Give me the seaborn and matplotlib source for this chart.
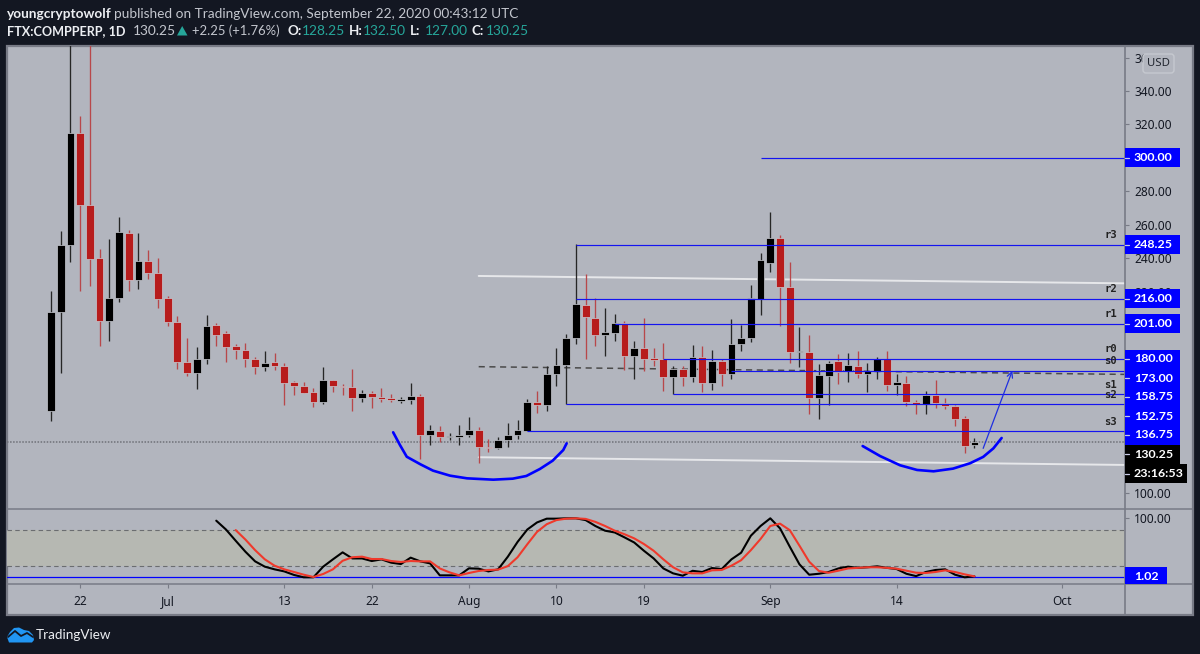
import numpy as np
import matplotlib
matplotlib.use("Agg")
import matplotlib.pyplot as plt
from matplotlib.patches import Rectangle, Polygon, FancyBboxPatch
from matplotlib.transforms import blended_transform_factory
import seaborn as sns

# -----------------------------
# Candles (day 0 = 19 Jun 2020)
# -----------------------------
opens = [148.8, 207.8, 248.0, 315.1, 271.9, 240.0, 202.8, 216.2, 255.0, 227.1, 238.4, 231.1,
         216.2, 202.0, 178.1, 171.7, 179.7, 200.4, 195.2, 187.5, 185.3, 179.7, 175.1, 178.1,
         175.9, 166.2, 163.8, 160.0, 154.2, 167.2, 164.0, 163.3, 156.8, 159.6, 157.0, 156.4,
         155.0, 155.4, 157.8, 134.5, 137.1, 133.1, 133.1, 134.5, 137.5, 127.5, 126.7, 131.5,
         134.5, 136.9, 154.0, 152.6, 170.7, 176.3, 192.3, 212.2, 204.2, 194.2, 195.6, 201.2,
         181.7, 186.5, 180.5, 179.7, 169.1, 174.1, 169.1, 181.1, 165.4, 178.9, 171.1, 189.0,
         192.3, 215.9, 237.4, 252.0, 223.1, 184.1, 184.3, 156.4, 169.9, 178.5, 172.5, 175.9,
         170.7, 172.7, 179.9, 164.5, 165.7, 154.4, 153.0, 158.6, 153.6, 151.8, 144.5, 128.25]
highs = [220.5, 256.4, 372.0, 325.2, 385.0, 245.6, 251.4, 264.9, 257.0, 255.2, 245.0, 240.0,
         217.7, 205.6, 192.3, 186.9, 206.2, 201.4, 196.6, 188.9, 189.3, 181.1, 184.5, 183.3,
         177.7, 167.0, 166.2, 162.4, 175.1, 167.4, 164.8, 173.7, 161.4, 160.6, 162.4, 158.8,
         157.2, 165.4, 159.0, 140.5, 140.1, 135.5, 140.3, 145.1, 139.1, 131.9, 133.1, 141.5,
         143.5, 156.2, 160.8, 175.9, 186.6, 194.8, 248.4, 230.7, 216.5, 210.5, 206.8, 202.6,
         190.5, 204.2, 186.3, 189.5, 175.7, 175.9, 188.1, 187.8, 185.1, 180.1, 203.8, 200.0,
         224.1, 243.4, 267.5, 254.0, 237.9, 199.2, 194.2, 176.9, 178.5, 182.9, 183.5, 184.7,
         177.3, 181.1, 184.9, 171.0, 169.7, 155.4, 160.6, 167.2, 156.6, 152.4, 145.9, 132.5]
lows = [143.0, 171.7, 237.8, 220.5, 223.5, 187.8, 190.6, 214.1, 220.7, 221.7, 227.9, 210.2,
        199.8, 173.9, 169.9, 162.1, 176.7, 187.5, 178.3, 179.9, 175.0, 170.7, 172.9, 173.1,
        152.6, 158.4, 159.6, 151.4, 153.2, 160.2, 158.4, 148.8, 154.2, 150.8, 154.0, 154.4,
        153.8, 153.2, 120.2, 128.5, 130.5, 131.5, 128.5, 133.5, 117.9, 124.3, 126.3, 127.5,
        132.3, 136.7, 147.8, 148.8, 164.0, 153.0, 188.9, 179.9, 187.8, 181.5, 190.8, 173.3,
        168.1, 172.9, 175.7, 161.0, 158.8, 164.0, 166.0, 160.2, 161.4, 164.0, 168.1, 184.9,
        190.0, 206.4, 232.0, 199.8, 177.7, 175.1, 147.2, 143.9, 152.4, 164.8, 166.2, 168.7,
        160.2, 168.1, 161.0, 158.4, 151.8, 146.9, 146.9, 150.4, 150.2, 139.9, 124.0, 127.0]
closes = [208.2, 248.0, 315.1, 271.9, 239.6, 202.8, 216.5, 255.6, 227.1, 238.4, 231.1, 215.7,
          202.0, 178.0, 171.7, 179.7, 199.6, 194.4, 187.2, 185.1, 179.7, 175.1, 177.5, 175.9,
          165.7, 163.6, 159.8, 154.4, 167.2, 163.6, 163.2, 156.8, 159.6, 157.4, 156.0, 155.2,
          155.8, 157.8, 134.5, 137.3, 133.3, 133.7, 134.7, 137.6, 127.3, 126.7, 131.5, 134.7,
          137.3, 154.0, 152.6, 170.9, 176.3, 192.4, 212.8, 204.8, 194.2, 195.8, 201.2, 181.7,
          186.5, 180.1, 179.5, 169.1, 174.1, 169.1, 180.9, 165.4, 178.9, 171.1, 189.0, 192.4,
          216.5, 238.9, 252.4, 222.7, 184.3, 184.7, 156.8, 170.5, 177.7, 172.1, 176.5, 170.7,
          172.9, 179.9, 164.4, 166.0, 154.4, 153.0, 158.4, 153.8, 151.8, 144.2, 127.7, 130.25]

# Oscillator lines
stoch_k = [96, 81, 62, 43.4, 27, 18, 13.5, 10, 4, 0, 0, 18, 30.4, 42.3, 32, 32, 27.6, 30.4, 24.8,
           22.5, 33.3, 27, 23.6, 3.3, 3.3, 3.3, 15.2, 14.6, 10, 13.5, 35, 60, 81, 93, 99.4, 99.4,
           100, 100, 97, 87, 79, 76, 67.7, 59, 45, 32, 15, 6.7, 2.7, 11, 9, 15.7, 14, 30.4, 41.7,
           70.5, 87, 100, 83, 52, 22, 4.4, 6, 9, 15, 18, 16, 17, 18.6, 16, 14, 6, 2, 9, 12.4,
           13.5, 4.4, 0, 1.6]
stoch_d = [80, 64, 46, 30.4, 19.7, 13.5, 9, 4.4, 0.5, 5.6, 13.5, 28, 34, 35, 31, 31, 27.6, 26,
           27.6, 27, 27, 15, 8.4, 3.3, 7.3, 10.7, 12.4, 13, 19, 34, 56, 77, 90, 97, 99.4, 100,
           99, 94, 87, 79, 73, 66, 56.4, 45, 30.4, 17, 8.4, 6.7, 6.7, 11.8, 12.4, 19.7, 29, 46,
           65, 87, 91, 80, 53.6, 26.5, 10.7, 7.8, 11.2, 15, 16, 17, 17, 16, 14.6, 11.2, 7.8,
           7.3, 9, 11.8, 9, 5, 1.6]
osc_last = 1.02

# Levels
level_prices = [300.0, 248.25, 216.0, 201.0, 180.0, 173.0, 158.75, 152.75, 136.75]
level_start = [73, 54, 54, 58, 63, 70, 64, 53, 49]
pivot_names = ["r3", "r2", "r1", "r0", "s0", "s1", "s2", "s3"]
pivot_prices = [248.25, 216.0, 201.0, 180.0, 173.0, 158.75, 152.75, 136.75]

# Hand drawn cups, arrow and trend lines
cup1_days = [35.2, 35.9, 36.6, 38.0, 39.3, 41.05, 42.8, 45.5, 47.5, 48.9, 50.3, 51.6, 52.7, 53.05]
cup1_prices = [136.1, 128.5, 121.5, 117.0, 113.2, 110.2, 108.6, 107.8, 108.4, 110.0, 114.2, 119.1, 125.5, 129.5]
cup2_days = [83.5, 85.3, 87.35, 89.1, 90.8, 92.8, 94.55, 95.9, 96.95, 97.8]
cup2_prices = [127.9, 121.9, 116.4, 113.6, 112.8, 114.4, 117.6, 121.4, 126.5, 132.7]
arrow_days = [95.9, 98.9]
arrow_prices = [126.5, 172.9]
trend_days = [44, 110.44]
trend_upper = [229.5, 225.1]
trend_lower = [121.2, 116.6]
trend_dash = [175.3, 170.7]

# Axis labels (the blank ones sit behind price tags)
y_ticks = [100, 120, 140, 160, 180, 200, 220, 240, 260, 280, 300, 320, 340, 360]
y_hidden = [120, 140, 160, 180, 200, 300]
x_ticks = [3, 12, 24, 33, 43, 52, 61, 74, 87, 104]
x_labels = ["22", "Jul", "13", "22", "Aug", "10", "19", "Sep", "14", "Oct"]

DARK = "#131722"
PANE = "#b2b5be"
LINE = "#787b86"
BLUE = "#0000ff"
TEAL = "#26a69a"
RED = "#b71c1c"
HEAD = "Lato"

sns.set_theme(style="ticks")
plt.rcParams["font.family"] = ["Noto Sans", "DejaVu Sans"]

fig = plt.figure(figsize=(12, 6.54), dpi=100, facecolor=DARK)

# -----------------------------
# Price pane
# -----------------------------
ax = fig.add_axes([7 / 1200, 145 / 654, 1117.5 / 1200, 463 / 654], facecolor="none", zorder=2)
osc = fig.add_axes([7 / 1200, 70 / 654, 1117.5 / 1200, 75 / 654], facecolor="none", zorder=2)
back = fig.add_axes([0, 0, 1, 1], zorder=1)
top = fig.add_axes([0, 0, 1, 1], facecolor="none", zorder=5)
for a in (back, top):
    a.set_xlim(0, 1200)
    a.set_ylim(654, 0)
    a.axis("off")
back.add_patch(Rectangle((7, 46), 1186, 569, facecolor=PANE, edgecolor=LINE, lw=1.6))

ax.set_xlim(-4.527, 110.44)
ax.set_ylim(90.28, 366.88)
days = np.arange(len(closes))
o, h, l, c = map(np.array, (opens, highs, lows, closes))
up = c >= o

ax.vlines(days[up], l[up], h[up], color="#262626", lw=0.95, zorder=3)
ax.vlines(days[~up], l[~up], h[~up], color="#b8474a", lw=0.95, zorder=3)
ax.bar(days[up], np.maximum(c[up] - o[up], 0.7), bottom=o[up], width=0.8, color="black",
       edgecolor="#c9cbd2", linewidth=0.5, zorder=4)
ax.bar(days[~up], np.maximum(o[~up] - c[~up], 0.7), bottom=c[~up], width=0.8, color=RED,
       edgecolor="#c9cbd2", linewidth=0.5, zorder=4)

ax.axhline(closes[-1], color="#6f7178", lw=1.1, ls=(0, (1, 1)), zorder=2)
ax.hlines(level_prices, level_start, 110.44, color="#1414f0", lw=0.85, zorder=5)
ax.plot(trend_days, trend_upper, color="#e6e7ea", lw=1.4, zorder=2)
ax.plot(trend_days, trend_lower, color="#e6e7ea", lw=1.4, zorder=2)
ax.plot(trend_days, trend_dash, color="#4a4a4a", lw=1.1, ls=(0, (4, 3)), zorder=2)

sns.lineplot(x=cup1_days, y=cup1_prices, color=BLUE, lw=1.9, sort=False, estimator=None, ax=ax, zorder=6)
sns.lineplot(x=cup2_days, y=cup2_prices, color=BLUE, lw=1.9, sort=False, estimator=None, ax=ax, zorder=6)
ax.annotate("", xy=(arrow_days[1], arrow_prices[1]), xytext=(arrow_days[0], arrow_prices[0]),
            arrowprops=dict(arrowstyle="->", color="#1f2fe0", lw=0.9, mutation_scale=10,
                            shrinkA=0, shrinkB=0), zorder=6)

side = blended_transform_factory(ax.transAxes, ax.transData)
for name, price in zip(pivot_names, pivot_prices):
    ax.annotate(name, xy=(1, price), xycoords=side, xytext=(-5.4, 6.9), textcoords="offset points",
                ha="right", va="center", fontsize=7.6, fontweight="bold", color="#222222",
                family="DejaVu Sans Mono", zorder=7)

ax.yaxis.tick_right()
ax.set_yticks(y_ticks)
ax.set_yticklabels(["" if v in y_hidden else f"{v:.2f}" for v in y_ticks])
ax.set_xticks([])
ax.tick_params(axis="y", length=3, width=0.8, color=LINE, pad=4, labelsize=8.6, labelcolor=DARK)
ax.set_xlabel("")
ax.set_ylabel("")
for s in ax.spines.values():
    s.set_visible(False)

# -----------------------------
# Oscillator pane
# -----------------------------
osc.set_xlim(ax.get_xlim())
osc.set_ylim(-11.36, 115.8)
osc.axhspan(20, 80, color="#b6b8b2", lw=0, zorder=1)
osc.axhline(80, color="#6b6d70", lw=0.8, ls=(0, (4, 3)), zorder=2)
osc.axhline(20, color="#6b6d70", lw=0.8, ls=(0, (4, 3)), zorder=2)
osc.axhline(osc_last, color=BLUE, lw=0.9, zorder=3)
sns.lineplot(x=days[-len(stoch_k):], y=stoch_k, color="black", lw=1.5, estimator=None, ax=osc, zorder=4)
sns.lineplot(x=days[-len(stoch_d):], y=stoch_d, color="#f0392b", lw=1.5, estimator=None, ax=osc, zorder=5)

osc.yaxis.tick_right()
osc.set_yticks([100])
osc.set_yticklabels(["100.00"])
osc.set_xticks(x_ticks)
osc.set_xticklabels(x_labels)
osc.tick_params(axis="y", length=3, width=0.8, color=LINE, pad=4, labelsize=8.6, labelcolor=DARK)
osc.tick_params(axis="x", length=3, width=0.8, color=LINE, pad=5, labelsize=8.6, labelcolor=DARK)
osc.set_xlabel("")
osc.set_ylabel("")
for s in osc.spines.values():
    s.set_visible(False)

# -----------------------------
# Separators and price tags
# -----------------------------
top.plot([1124.5, 1124.5], [46, 615], color=LINE, lw=1.2)
top.plot([7, 1193], [509.3, 509.3], color=LINE, lw=1.1)
top.plot([7, 1193], [584, 584], color=LINE, lw=1.1)


def price_to_px(price):
    return 654 - ax.transData.transform((0, price))[1]


def tag(y, label, right=1180.3, color=BLUE, h=19):
    top.add_patch(Rectangle((1125, y - h / 2), right - 1125, h, facecolor=color, lw=0, zorder=3))
    top.plot([1125, 1129], [y, y], color="#c9cbe6", lw=0.9, zorder=4)
    top.text(1134, y, label, color="white", fontsize=8.9, fontweight="bold", ha="left",
             va="center", family=HEAD, zorder=5)


for price in level_prices[:4]:
    tag(price_to_px(price), f"{price:.2f}")
stack_y = 359
for price in level_prices[4:]:
    tag(stack_y, f"{price:.2f}")
    stack_y += 19
tag(stack_y, f"{closes[-1]:.2f}", color="black")
tag(stack_y + 19.7, "23:16:53", right=1187, color="black")
top.add_patch(Rectangle((1125, 567.3), 42, 16.2, facecolor=BLUE, lw=0, zorder=3))
top.text(1134, 576.7, f"{osc_last:.2f}", color="white", fontsize=8.9, fontweight="bold",
         ha="left", va="center", family=HEAD, zorder=5)

top.add_patch(FancyBboxPatch((1143, 54), 31, 19, boxstyle="round,pad=0,rounding_size=3",
                             facecolor=PANE, edgecolor="#c6c9d0", lw=1.0, zorder=4))
top.text(1158.5, 63.5, "USD", color="#222630", fontsize=8.2, ha="center", va="center", zorder=5)

# -----------------------------
# Header and logo
# -----------------------------
WHITE = "#eceef2"
GREY = "#c3c6ce"
top.text(7, 13.5, "youngcryptowolf", color=WHITE, fontsize=9.8, fontweight="bold", va="center", family=HEAD)
top.text(114, 13.5, "published on TradingView.com, September 22, 2020 00:43:12 UTC", color=GREY,
         fontsize=9.8, va="center", family=HEAD)
top.text(7, 31, "FTX:COMPPERP, 1D", color=WHITE, fontsize=9.1, fontweight="bold", va="center", family=HEAD)
top.text(133, 31, "130.25", color=GREY, fontsize=9.9, va="center", family=HEAD)
top.add_patch(Polygon([(177, 35.5), (187.5, 35.5), (182.2, 26)], facecolor=TEAL, lw=0))
top.text(192, 31, "+2.25 (+1.76%)", color=GREY, fontsize=9.4, va="center", family=HEAD)
for xl, label, xv, value in [(287, "O:", 302, "128.25"), (349, "H:", 363, "132.50"),
                             (410, "L:", 425, "127.00"), (472, "C:", 486, "130.25")]:
    top.text(xl, 31, label, color=WHITE, fontsize=9.6, fontweight="bold", va="center", family=HEAD)
    top.text(xv, 31, value, color=TEAL, fontsize=9.9, va="center", family=HEAD)

LOGO = "#2196f3"
top.add_patch(Polygon([(7, 637), (10, 632), (14, 628), (19, 627.5), (24, 630), (29, 631), (33, 635),
                       (34, 640), (32, 642.5), (9, 642.5)], facecolor=LOGO, lw=0))
top.plot([8, 15, 21, 27, 33], [637, 631, 636, 633, 637], color=DARK, lw=1.3)
top.text(36, 635, "TradingView", color=WHITE, fontsize=9.7, va="center", family=HEAD)

fig.savefig("out.png", dpi=100, facecolor=DARK)
